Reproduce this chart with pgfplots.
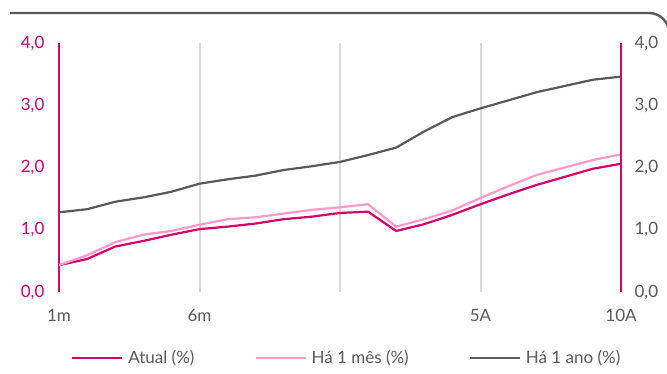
\documentclass[border=0pt]{standalone}
\usepackage{pgfplots}
\pgfplotsset{compat=1.18}
\usepackage{fontspec}
\setmainfont{Lato}
\definecolor{mag}{HTML}{D6006F}
\definecolor{lpink}{HTML}{FF99CC}
\definecolor{dgrey}{HTML}{58595B}
\definecolor{tgrey}{HTML}{595959}
\definecolor{gridc}{HTML}{D9D9D9}

\pgfplotstableread{
x atual mes ano
0 0.43 0.43 1.28
1 0.53 0.59 1.33
2 0.73 0.80 1.45
3 0.82 0.92 1.52
4 0.92 0.98 1.61
5 1.01 1.08 1.74
6 1.05 1.17 1.81
7 1.10 1.20 1.87
8 1.17 1.26 1.96
9 1.21 1.32 2.02
10 1.27 1.36 2.09
11 1.29 1.41 2.20
12 0.98 1.05 2.32
13 1.09 1.17 2.58
14 1.24 1.31 2.81
15 1.41 1.51 2.95
16 1.57 1.70 3.08
17 1.72 1.88 3.21
18 1.85 2.00 3.31
19 1.98 2.12 3.41
20 2.06 2.21 3.46
}\curvedata

\begin{document}
\begin{tikzpicture}
\useasboundingbox (0pt,0pt) rectangle (667pt,374pt);
\begin{scope}
\clip (0pt,0pt) rectangle (667pt,374pt);
\draw[dgrey, line width=2.4pt, rounded corners=20pt] (10pt,361pt) -- (669pt,361pt) -- (669pt,150pt);
\end{scope}
\begin{axis}[
  at={(59pt,82pt)}, anchor=south west, scale only axis,
  width=562pt, height=249pt,
  xmin=0, xmax=20, ymin=0, ymax=4,
  separate axis lines,
  x axis line style={draw=none},
  y axis line style={mag, line width=2.4pt},
  xtick={0,5,10,15,20},
  xticklabels={1m,6m,,5A,10A},
  xmajorgrids,
  grid style={gridc, line width=2pt},
  ytick={0,1,2,3,4},
  ytick pos=left,
  yticklabel pos=left,
  major tick length=0pt,
  /pgf/number format/assume math mode=true,
  y tick label style={/pgf/number format/fixed, /pgf/number format/fixed zerofill, /pgf/number format/precision=1, /pgf/number format/use comma},
  every tick label/.append style={font=\fontsize{17}{20}\selectfont},
  yticklabel style={text=mag, xshift=-11pt},
  xticklabel style={text=tgrey, yshift=-14pt},
  legend columns=3,
  legend image code/.code={\draw[#1] (0pt,0pt) -- (50pt,0pt);},
  legend style={at={(rel axis cs:0.512,-0.265)}, anchor=center, draw=none,
    font=\fontsize{17}{20}\selectfont, text=tgrey,
    /tikz/every odd column/.append style={column sep=3pt},
    /tikz/every even column/.append style={column sep=58pt}},
]
\addplot[mag, line width=2.2pt] table[x=x, y=atual] {\curvedata};
\addlegendentry{Atual (\%)}
\addplot[lpink, line width=2.2pt] table[x=x, y=mes] {\curvedata};
\addlegendentry{Há 1 mês (\%)}
\addplot[dgrey, line width=2.2pt] table[x=x, y=ano] {\curvedata};
\addlegendentry{Há 1 ano (\%)}
\end{axis}
\begin{axis}[
  at={(59pt,82pt)}, anchor=south west, scale only axis,
  width=562pt, height=249pt,
  xmin=0, xmax=20, ymin=0, ymax=4,
  hide x axis,
  axis y line*=right,
  y axis line style={mag, line width=2.4pt},
  ytick={0,1,2,3,4},
  major tick length=0pt,
  /pgf/number format/assume math mode=true,
  y tick label style={/pgf/number format/fixed, /pgf/number format/fixed zerofill, /pgf/number format/precision=1, /pgf/number format/use comma},
  every tick label/.append style={font=\fontsize{17}{20}\selectfont},
  yticklabel style={text=tgrey, xshift=10pt},
]
\end{axis}
\end{tikzpicture}
\end{document}
